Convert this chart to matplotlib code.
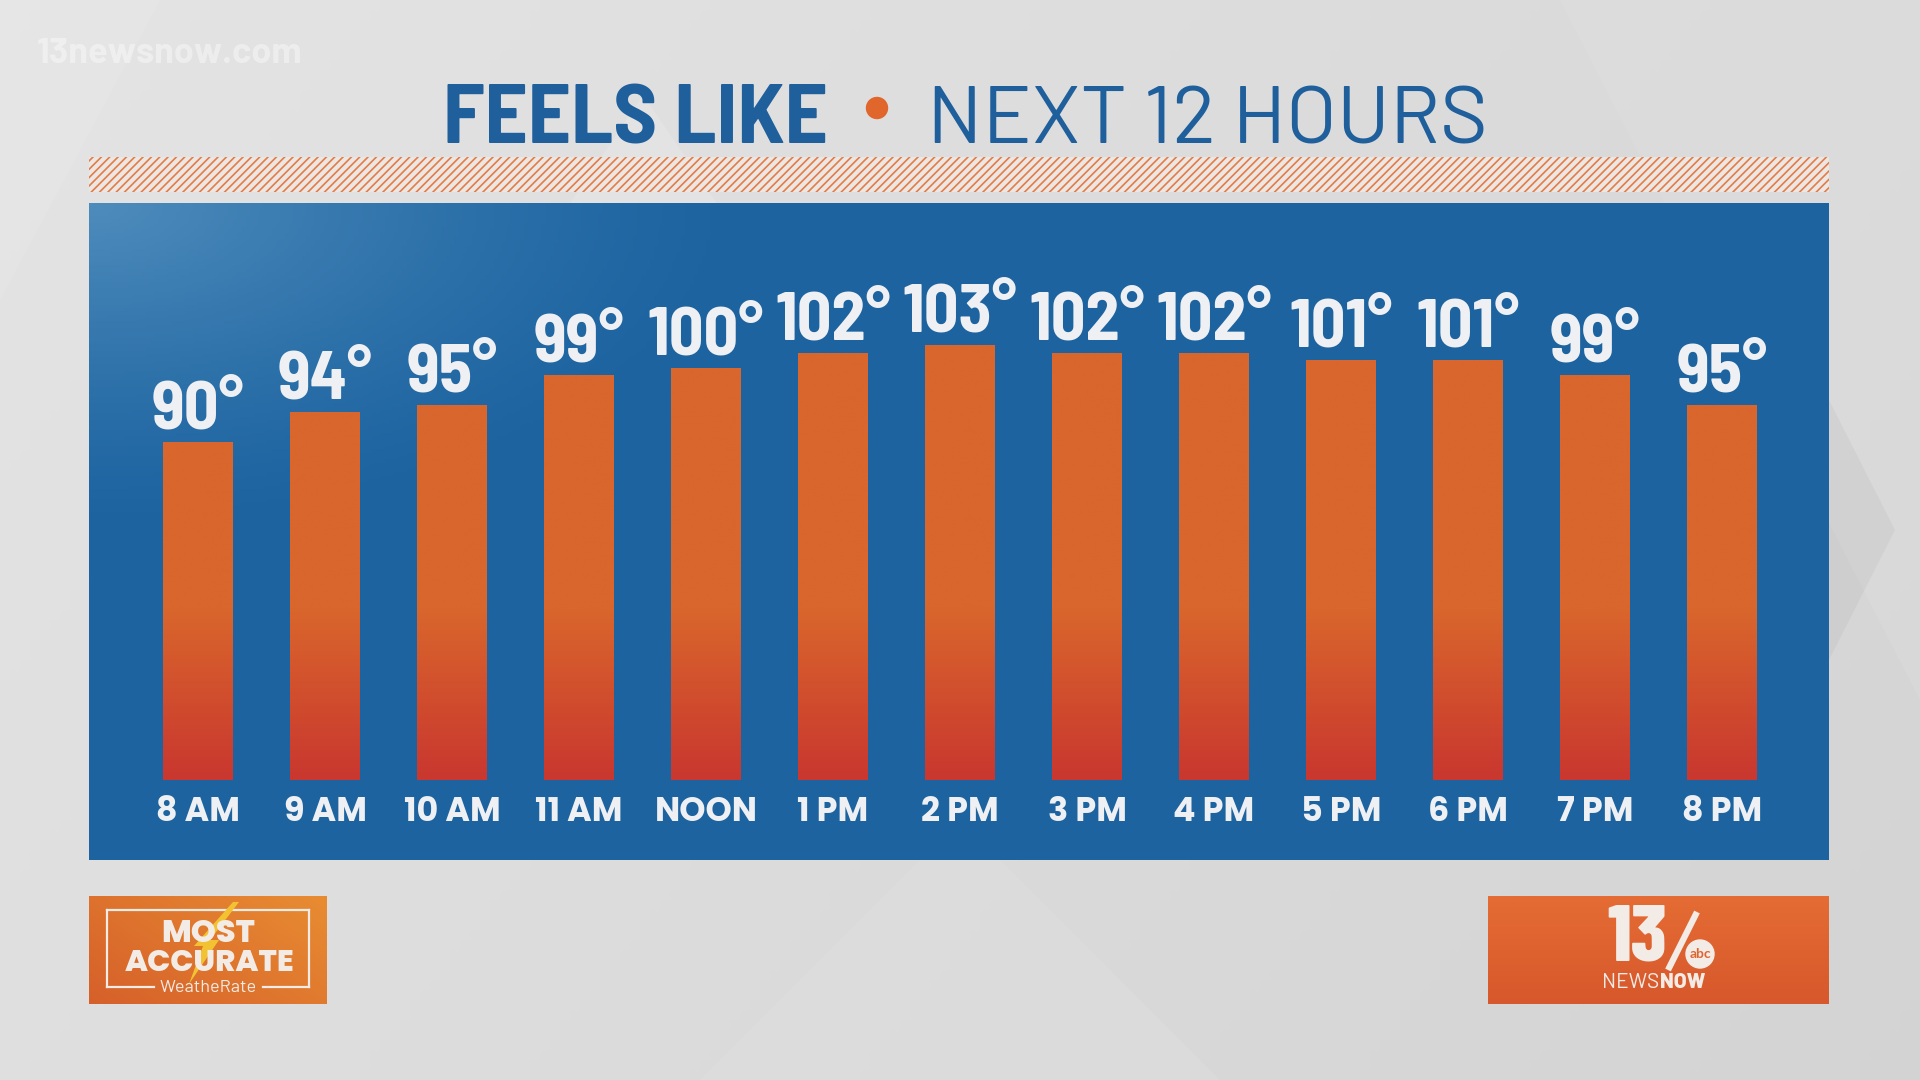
import numpy as np
import matplotlib
matplotlib.use('Agg')
import matplotlib.pyplot as plt
from matplotlib.patches import Rectangle, Circle, Polygon
from matplotlib.colors import LinearSegmentedColormap

plt.rcParams['font.family'] = ['Lato', 'DejaVu Sans']
plt.rcParams['hatch.linewidth'] = 1.2

COND = ['Barlow Semi Condensed', 'Lato', 'DejaVu Sans']
NARROW = ['Barlow Condensed', 'Lato', 'DejaVu Sans']
PLAIN = ['Barlow', 'Lato', 'DejaVu Sans']
WIDE = ['Poppins', 'Lato', 'DejaVu Sans']

# data
hours = ['8 AM', '9 AM', '10 AM', '11 AM', 'NOON', '1 PM', '2 PM',
         '3 PM', '4 PM', '5 PM', '6 PM', '7 PM', '8 PM']
feels_like = [90, 94, 95, 99, 100, 102, 103, 102, 102, 101, 101, 99, 95]

title_bold = 'FEELS LIKE'
title_light = 'NEXT 12 HOURS'

# colours
BLUE_TXT = '#1f5f9c'
ORANGE = '#d9662c'
RED = '#c9372f'
WHITE = '#eef0f3'

W, H = 1920, 1080
fig = plt.figure(figsize=(19.2, 10.8), dpi=100)

# ---- background layer, pixel coordinates ----
bg = fig.add_axes([0, 0, 1, 1])
bg.set_xlim(0, W)
bg.set_ylim(H, 0)
bg.axis('off')

yy, xx = np.mgrid[0:1:108j, 0:1:192j]
grey = 0.895 - 0.045 * xx - 0.02 * yy
bg.imshow(np.dstack([grey, grey, grey]), extent=[0, W, H, 0], aspect='auto', zorder=0)
# faint triangles in the backdrop
for pts, col, a in [([(643, 95), (330, 560), (960, 560)], 'white', 0.15),
                    ([(0, 300), (160, 0), (0, 0)], 'white', 0.10),
                    ([(1560, 0), (1920, 0), (1920, 700)], 'white', 0.08),
                    ([(1829, 400), (1895, 530), (1829, 660)], 'black', 0.035),
                    ([(700, 1080), (960, 820), (1220, 1080)], 'white', 0.08)]:
    bg.add_patch(Polygon(pts, closed=True, color=col, alpha=a, lw=0, zorder=0.5))

# watermark
bg.text(37, 54, '13newsnow.com', color='white', alpha=0.4, fontsize=26,
        weight='bold', family=PLAIN, va='center', ha='left', zorder=1)

# title
bg.text(828, 143, title_bold, ha='right', va='baseline', fontsize=61,
        weight='bold', family=COND, color=BLUE_TXT, zorder=2)
bg.add_patch(Circle((877, 108), 10.5, color='#e0662b', zorder=2))
bg.text(927, 143, title_light, ha='left', va='baseline', fontsize=59,
        weight='normal', family=PLAIN, color=BLUE_TXT, zorder=2)

# hatched stripe
bg.add_patch(Rectangle((89, 157), 1740, 35, facecolor='#ece7e3', edgecolor='#e27c48',
                       hatch='////', lw=0, zorder=1))

# blue panel with a soft glow in the upper left
py, px = np.mgrid[0:1:200j, 0:1:400j]
glow = np.clip(1 - np.sqrt((px / 0.38) ** 2 + (py / 0.5) ** 2), 0, 1) ** 1.3
base = np.array([28, 99, 160]) / 255
light = np.array([78, 140, 188]) / 255
panel = base[None, None, :] + glow[..., None] * (light - base)[None, None, :]
bg.imshow(panel, extent=[89, 1829, 860, 203], aspect='auto', zorder=1)

# ---- chart axes laid over the panel ----
ax = fig.add_axes([89 / W, 1 - 860 / H, 1740 / W, 657 / H])
ax.patch.set_alpha(0)
BASE = 44.7
x = np.arange(len(hours))
bars = ax.bar(x, [v - BASE for v in feels_like], bottom=BASE, width=0.55,
              color=ORANGE, lw=0, zorder=2)

cmap = LinearSegmentedColormap.from_list('heat', [RED, ORANGE])
for b, v in zip(bars, feels_like):
    ys = np.linspace(BASE, v, 200)
    t = np.clip((ys - BASE) / 23.0, 0, 1)[::-1, None]
    ax.imshow(t, cmap=cmap, vmin=0, vmax=1, aspect='auto', zorder=3,
              extent=[b.get_x(), b.get_x() + b.get_width(), BASE, v])

for i, v in enumerate(feels_like):
    ax.annotate(f'{v}°', (i, v), xytext=(0, 10), textcoords='offset points',
                ha='center', va='baseline', fontsize=49, weight='bold',
                family=COND, color=WHITE, zorder=4)
for i, h in enumerate(hours):
    ax.annotate(h, (i, BASE), xytext=(0, -24), textcoords='offset points',
                ha='center', va='center', fontsize=24, weight='bold',
                family=WIDE, color=WHITE, zorder=4)

ax.set_xlim(-0.858, 12.843)
ax.set_ylim(33.96, 122.15)
ax.axis('off')

# ---- logos ----
lg = fig.add_axes([0, 0, 1, 1])
lg.set_xlim(0, W)
lg.set_ylim(H, 0)
lg.axis('off')
lg.patch.set_alpha(0)

# left: most accurate
gy, gx = np.mgrid[0:1:50j, 0:1:100j]
tt = np.clip(0.6 * gx + 0.4 * (1 - gy), 0, 1)
c0 = np.array([214, 96, 42]) / 255
c1 = np.array([232, 140, 50]) / 255
lg.imshow(c0 + tt[..., None] * (c1 - c0), extent=[89, 327, 1004, 896], aspect='auto', zorder=1)
lc = '#f3ece6'
for seg in [[(107, 910), (309, 910)], [(107, 910), (107, 987)], [(309, 910), (309, 987)],
            [(107, 987), (154, 987)], [(263, 987), (309, 987)]]:
    (x0, y0), (x1, y1) = seg
    lg.plot([x0, x1], [y0, y1], color=lc, lw=1.6, zorder=2)
lg.add_patch(Polygon([(239, 902), (210, 940), (219, 940), (189, 984),
                      (203, 946), (194, 946), (233, 902)], closed=True,
                     color='#f2c232', lw=0, zorder=2))
lg.text(208, 934, 'MOST', ha='center', va='center', fontsize=23, weight='heavy',
        family=WIDE, color=lc, zorder=3)
lg.text(210, 964, 'ACCURATE', ha='center', va='center', fontsize=22, weight='heavy',
        family=WIDE, color=lc, zorder=3)
lg.text(208, 988, 'WeatheRate', ha='center', va='center', fontsize=13,
        family=PLAIN, color=lc, zorder=3)

# right: 13 news now
d0 = np.array([229, 108, 52]) / 255
d1 = np.array([215, 88, 44]) / 255
lg.imshow(d0 + gy[..., None] * (d1 - d0), extent=[1488, 1829, 1004, 896], aspect='auto', zorder=1)
lg.text(1667, 940, '13', ha='right', va='center', fontsize=58, weight='heavy',
        family=NARROW, color=lc, zorder=3)
lg.plot([1697, 1668], [912, 970], color=lc, lw=4.5, solid_capstyle='butt', zorder=3)
lg.add_patch(Circle((1700, 954), 14, color=lc, zorder=3))
lg.text(1700, 954, 'abc', ha='center', va='center', fontsize=10, weight='bold',
        color='#de6530', zorder=4)
lg.text(1659, 983, 'NEWS', ha='right', va='center', fontsize=15, family=PLAIN,
        color=lc, zorder=3)
lg.text(1660, 983, 'NOW', ha='left', va='center', fontsize=15, weight='heavy',
        family=PLAIN, color=lc, zorder=3)

fig.savefig('out.png', dpi=100)
